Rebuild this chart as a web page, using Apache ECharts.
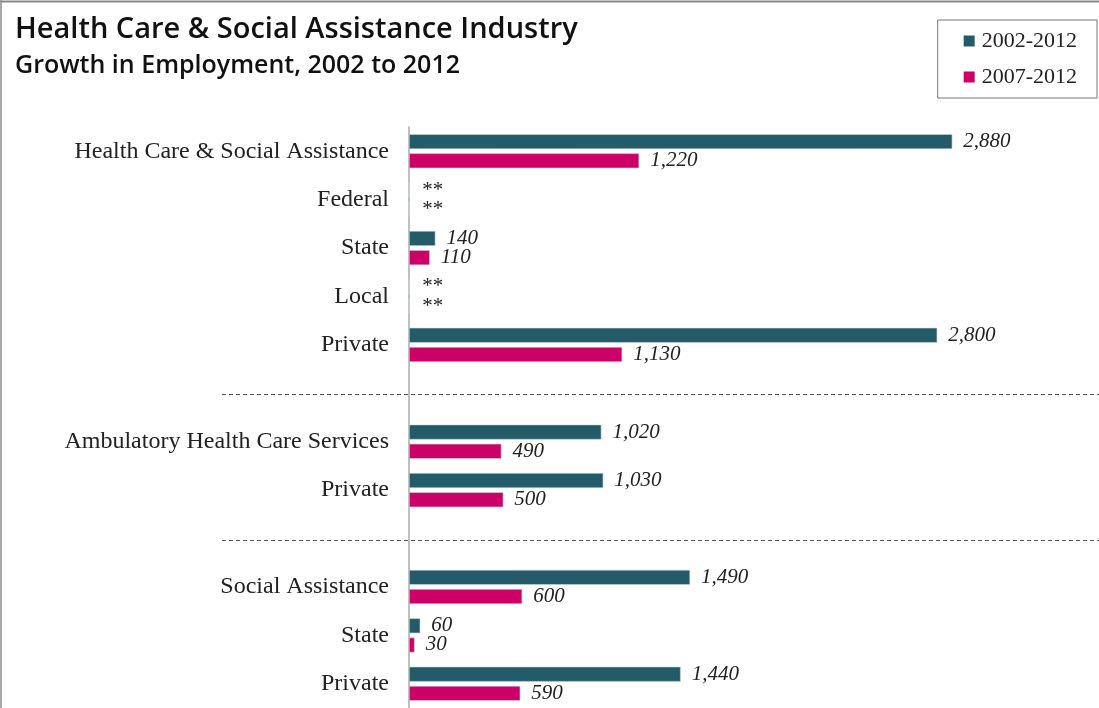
<!DOCTYPE html>
<html>
<head>
<meta charset="utf-8">
<script src="https://cdn.jsdelivr.net/npm/echarts@6/dist/echarts.min.js"></script>
<style>
  html, body { margin: 0; padding: 0; background: #fff; }
  #chart { width: 1099px; height: 708px; }
</style>
</head>
<body>
<div id="chart"></div>
<script>
// Rows from top to bottom; empty strings are the spacer rows holding the dashed separators
const categories = [
  'Health Care & Social Assistance', 'Federal', 'State', 'Local', 'Private',
  '',
  'Ambulatory Health Care Services', 'Private',
  '',
  'Social Assistance', 'State', 'Private'
];
// Employment growth; null = not disclosed (shown as **), undefined = spacer row
const growth2002_2012 = [2880, null, 140, null, 2800, undefined, 1020, 1030, undefined, 1490, 60, 1440];
const growth2007_2012 = [1220, null, 110, null, 1130, undefined, 490, 500, undefined, 600, 30, 590];
const seriesNames = ['2002-2012', '2007-2012'];
const colors = ['#245b68', '#cc0066'];

const serifFont = '"Liberation Serif", "DejaVu Serif", serif';
const sansFont = '"Open Sans", Lato, sans-serif';

function toData(arr) {
  return arr.map(function (v) {
    if (v === undefined) return '-';
    if (v === null) return { value: 0, label: { formatter: '**', distance: 12 } };
    return v;
  });
}

function makeSeries(i, arr) {
  return {
    name: seriesNames[i],
    type: 'bar',
    data: toData(arr),
    barWidth: 15,
    barGap: '28%',
    itemStyle: { color: colors[i], borderColor: '#c9d6de', borderWidth: 0.6 },
    label: {
      show: true,
      position: 'right',
      distance: 11,
      fontFamily: serifFont,
      fontStyle: 'italic',
      fontSize: 21,
      color: '#222',
      formatter: function (p) { return p.value.toLocaleString('en-US'); }
    },
    animation: false
  };
}

const chart = echarts.init(document.getElementById('chart'));
chart.setOption({
  backgroundColor: '#fff',
  title: {
    text: 'Health Care & Social Assistance Industry',
    subtext: 'Growth in Employment, 2002 to 2012',
    left: 10,
    top: 10,
    itemGap: 9,
    textStyle: { fontFamily: sansFont, fontSize: 29, fontWeight: 600, color: '#111' },
    subtextStyle: { fontFamily: sansFont, fontSize: 25, fontWeight: 600, color: '#111' }
  },
  legend: {
    orient: 'vertical',
    right: 2,
    top: 20,
    data: seriesNames,
    itemWidth: 11,
    itemHeight: 11,
    itemGap: 14,
    padding: [10, 20, 10, 26],
    borderColor: '#777',
    borderWidth: 1,
    icon: 'rect',
    itemStyle: { borderWidth: 0 },
    textStyle: { fontFamily: serifFont, fontSize: 22, color: '#222', padding: [0, 0, 0, 2] }
  },
  grid: { left: 409, right: 124, top: 127, bottom: 0, containLabel: false },
  xAxis: {
    type: 'value',
    min: 0,
    max: 3000,
    show: false
  },
  yAxis: {
    type: 'category',
    data: categories,
    inverse: true,
    axisTick: { show: false },
    axisLine: { show: true, lineStyle: { color: '#aaa', width: 1.5 } },
    axisLabel: { fontFamily: serifFont, fontSize: 24, color: '#222', margin: 20 }
  },
  series: [makeSeries(0, growth2002_2012), makeSeries(1, growth2007_2012)]
});

// Dashed separators across the spacer rows, plus the frame along the top and left edges
function drawDecor() {
  const els = [
    { type: 'line', shape: { x1: 0.5, y1: 1.5, x2: 1099, y2: 1.5 }, style: { stroke: '#888', lineWidth: 2 } },
    { type: 'line', shape: { x1: 1, y1: 0, x2: 1, y2: 708 }, style: { stroke: '#888', lineWidth: 1.5 } }
  ];
  categories.forEach(function (c, i) {
    if (c !== '') return;
    const y = Math.round(chart.convertToPixel({ yAxisIndex: 0 }, i)) + 1.5;
    els.push({
      type: 'line',
      shape: { x1: 222, y1: y, x2: 1099, y2: y },
      style: { stroke: '#555', lineWidth: 1, lineDash: [4, 3] },
      z: 10
    });
  });
  chart.setOption({ graphic: els });
}
drawDecor();
</script>
</body>
</html>
